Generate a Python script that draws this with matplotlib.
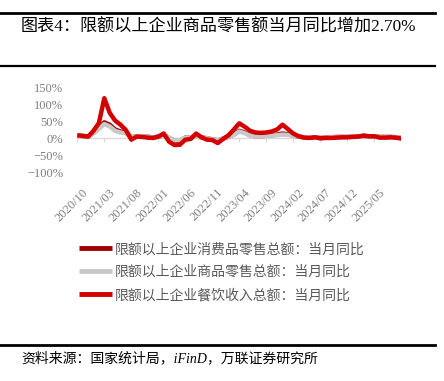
import matplotlib
matplotlib.use("Agg")
import matplotlib.pyplot as plt
from matplotlib.lines import Line2D
from matplotlib.transforms import blended_transform_factory, ScaledTranslation
import pandas as pd

plt.rcParams['font.family'] = ['Liberation Serif', 'Noto Sans CJK SC', 'DejaVu Sans']

months = pd.period_range('2020-10', '2025-10', freq='M').strftime('%Y/%m').tolist()

consumer_total = [7.5, 7, 5, 16, 30, 47, 40, 26, 20, 16, 5, 5, 6, 5, 2, 5, 9, 1, -8, -7,
                  2, 3, 6, 3, 0, -3, -6, -1, 5, 11, 22, 17, 9, 6, 6, 8, 9, 11, 14, 12,
                  8, 5, 3, 3, 2, 1, 2, 3, 4, 4, 4, 5, 5, 7, 6, 6, 4, 4, 4, 3, 2.5]
goods_retail = [7, 7, 5, 15, 28, 42, 35, 22, 17, 15, 6, 5, 6, 5, 2, 5, 8, 2, -6, -5,
                2, 3, 5, 3, 0, -3, -5, -1, 5, 10, 20, 15, 8, 5, 5, 7, 8, 9, 11, 10,
                8, 5, 3, 3, 2, 1, 2, 3, 4, 4, 4, 5, 5, 7, 6, 6, 4, 4, 4, 3, 2.7]
catering = [9, 7, 5, 22, 45, 118, 75, 52, 40, 24, -4, 5, 4, 2, 1, 5, 14, -10, -20, -19,
            -4, -2, 14, 3, -4, -5, -14, -2, 9, 26, 44, 34, 22, 17, 16, 17, 20, 26, 40, 27,
            14, 6, 2, 1, 3, 0, 1, 1, 2, 3, 3, 4, 5, 8, 6, 6, 2, 2, 3, 2, -1]

series_names = ['限额以上企业消费品零售总额：当月同比',
                '限额以上企业商品零售总额：当月同比',
                '限额以上企业餐饮收入总额：当月同比']
series_colors = ['#A00000', '#C8C8C8', '#D40000']

yticks = [-100, -50, 0, 50, 100, 150]
ytick_labels = ['\u2212100%', '\u221250%', '0%', '50%', '100%', '150%']

title = '图表4：限额以上企业商品零售额当月同比增加2.70%'
source = '资料来源：国家统计局，iFinD，万联证券研究所'

W, H = 444, 381
fig = plt.figure(figsize=(W / 100, H / 100), dpi=100)
fig.patch.set_facecolor('white')

ax = fig.add_axes([77.3 / W, 1 - 172.3 / H, (401.3 - 77.3) / W, (172.3 - 87.3) / H])
x = list(range(len(months)))
handles = []
for vals, name, col in zip([consumer_total, goods_retail, catering], series_names, series_colors):
    h, = ax.plot(x, vals, color=col, lw=3.2, solid_joinstyle='round', solid_capstyle='butt', label=name)
    handles.append(h)

ax.set_xlim(0, len(months) - 1)
ax.set_ylim(-100, 150)
ax.set_yticks(yticks)
ax.set_yticklabels(ytick_labels)
ax.tick_params(axis='y', length=0, pad=10, labelsize=9, labelcolor='#7F7F7F')
for s in ['top', 'right', 'left']:
    ax.spines[s].set_visible(False)
ax.spines['bottom'].set_position(('data', 0))
ax.spines['bottom'].set_color('#D9D9D9')
ax.spines['bottom'].set_linewidth(1.0)
ax.spines['bottom'].set_zorder(0.5)
tick_idx = list(range(0, len(months) - 1, 5))
ax.set_xticks(tick_idx)
ax.tick_params(axis='x', direction='out', length=3, color='#D9D9D9', labelbottom=False)

trans = blended_transform_factory(ax.transData, ax.transAxes) + ScaledTranslation(0.045, -0.14, fig.dpi_scale_trans)
for i in tick_idx:
    ax.text(i, 0, months[i], transform=trans, rotation=45, rotation_mode='anchor',
            ha='right', va='top', fontsize=9, color='#7F7F7F')

leg = fig.legend(handles, series_names, loc='upper left', bbox_to_anchor=(79 / W, 1 - 243 / H),
                 frameon=False, fontsize=10, handlelength=2.4, handletextpad=0.2,
                 labelspacing=0.68, borderpad=0, borderaxespad=0)
for t in leg.get_texts():
    t.set_color('#595959')
for lh in leg.get_lines():
    lh.set_linewidth(3.5)

fig.text(21 / W, 1 - 27 / H, title, ha='left', va='center', fontsize=12.3, color='black')
fig.text(21 / W, 1 - 358 / H, source, ha='left', va='center', fontsize=10, style='italic', color='black')

for yy, lw in [(13, 2.0), (65.5, 1.6), (345, 2.0)]:
    fig.add_artist(Line2D([0, 435 / W], [1 - yy / H, 1 - yy / H], color='black', lw=lw,
                          transform=fig.transFigure))

fig.savefig('out.png', dpi=100)
